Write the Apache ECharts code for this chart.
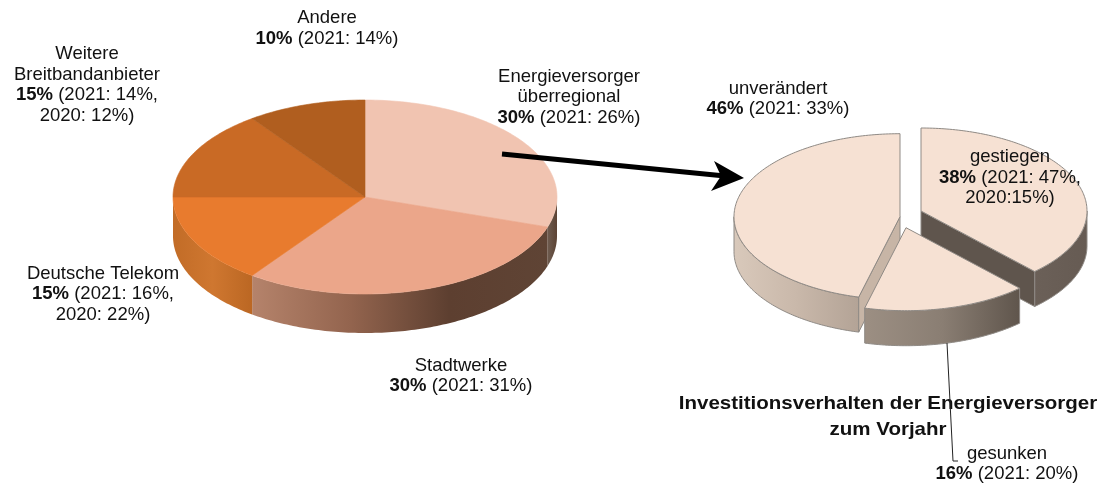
<!DOCTYPE html>
<html><head><meta charset="utf-8">
<style>html,body{margin:0;padding:0;background:#fff}#c{width:1105px;height:483px}</style>
<script src="https://cdn.jsdelivr.net/npm/echarts@6/dist/echarts.min.js"></script>
</head><body><div id="c"></div>
<script>
const marketCategories = ['Energieversorger überregional','Stadtwerke','Deutsche Telekom','Weitere Breitbandanbieter','Andere'];
const marketValues = [30,30,15,15,10];
const investCategories = ['gestiegen','gesunken','unverändert'];
const investValues = [38,16,46];

const FONT = '"Liberation Sans", Arial, sans-serif';
const chart = echarts.init(document.getElementById('c'), null, {renderer:'canvas'});
const grad = (stops) => new echarts.graphic.LinearGradient(0,0,1,0,
  stops.map((c,i)=>({offset:i/(stops.length-1),color:c})));

function ell(g,cx,cy,a){const r=a*Math.PI/180;return [cx+g.rx*Math.sin(r),cy-g.ry*Math.cos(r)];}
function arc(g,cx,cy,a0,a1){const pts=[];const n=Math.max(2,Math.ceil(Math.abs(a1-a0)));
  for(let i=0;i<=n;i++)pts.push(ell(g,cx,cy,a0+(a1-a0)*i/n));return pts;}

function pieSeries(name,cats,vals,g){
  const total=vals.reduce((a,b)=>a+b,0);
  const starts=[];let acc=0;vals.forEach(v=>{starts.push(acc/total*360);acc+=v;});
  return {
    type:'custom',name,coordinateSystem:'none',silent:true,z:2,
    data:vals.map((v,i)=>({name:cats[i],value:v})),
    renderItem(params,api){
      const i=params.dataIndex,a0=starts[i],a1=a0+api.value(0)/total*360;
      const st=g.slices[i];
      const cx=g.cx+(st.dx||0),cy=g.cy+(st.dy||0);
      const kids=[];
      const lineStyle=g.edge?{stroke:g.edge,lineWidth:1}:null;
      const w0=Math.max(a0,90),w1=Math.min(a1,270);
      if(w1>w0&&st.wall){
        const top=arc(g,cx,cy,w0,w1);
        const bot=top.slice().reverse().map(p=>[p[0],p[1]+g.depth]);
        kids.push({type:'polygon',shape:{points:top.concat(bot)},
          style:Object.assign({fill:grad(st.wall)},lineStyle||{stroke:null})});
      }
      if(st.cutAngle!==undefined){
        const e=ell(g,cx,cy,st.cutAngle);
        kids.push({type:'polygon',shape:{points:[[cx,cy],e,[e[0],e[1]+g.depth],[cx,cy+g.depth]]},
          style:Object.assign({fill:st.cut},lineStyle||{})});
      }
      const pts=[[cx,cy]].concat(arc(g,cx,cy,a0,a1));
      kids.push({type:'polygon',shape:{points:pts},
        style:Object.assign({fill:st.top},lineStyle||{stroke:st.top,lineWidth:0.6})});
      kids.forEach(k=>{k.z2=(st.z2||0);});
      return {type:'group',children:kids};
    }
  };
}

const leftPie={cx:365,cy:197,rx:192,ry:97,depth:39,slices:[
  {top:'#F1C4B1',wall:['#6e5c50','#5c4334']},
  {top:'#EBA68A',wall:['#b5836b','#93644e','#5d3f30','#5f4435']},
  {top:'#E87B2E',wall:['#c26c27','#cf7730','#bb6723']},
  {top:'#C96A25'},
  {top:'#B05E1F'}
]};
const rightPie={cx:905,cy:215,rx:166,ry:83,depth:35,edge:'#8f8a85',slices:[
  {top:'#F6E1D3',dx:16,dy:-4,z2:1,wall:['#6b6058','#665b53'],cutAngle:136.8,cut:'#5f554d'},
  {top:'#F6E1D3',dx:1,dy:12.7,z2:3,wall:['#9c8f83','#8a7e73','#5f554c']},
  {top:'#F6E1D3',dx:-5,dy:1.7,z2:2,wall:['#d9c9bb','#c9b8aa','#b3a396'],cutAngle:194.4,cut:'#c7b5a6'}
]};

const SIZE=18.5, LH=20.5;
const rich={b:{fontFamily:FONT,fontSize:SIZE,fontWeight:'bold',lineHeight:LH,fill:'#111'},
            n:{fontFamily:FONT,fontSize:SIZE,lineHeight:LH,fill:'#111'}};
function label(cx,cy,lines){
  const text=lines.map(l=>l.startsWith('*')
    ? l.slice(1).replace(/^(\S+)(.*)$/,'{b|$1}{n|$2}') : '{n|'+l+'}').join('\n');
  return {type:'text',z:100,x:cx,y:cy,silent:true,
    style:{text,rich,align:'center',verticalAlign:'middle',fontFamily:FONT,fontSize:SIZE,lineHeight:LH,fill:'#111'}};
}
const labels=[
  label(327,28.5,['Andere','*10% (2021: 14%)']),
  label(87,85,['Weitere','Breitbandanbieter','*15% (2021: 14%,','2020: 12%)']),
  label(569,97,['Energieversorger','überregional','*30% (2021: 26%)']),
  label(778,99,['unverändert','*46% (2021: 33%)']),
  label(1010,177.5,['gestiegen','*38% (2021: 47%,','2020:15%)']),
  label(103,294,['Deutsche Telekom','*15% (2021: 16%,','2020: 22%)']),
  label(461,376,['Stadtwerke','*30% (2021: 31%)']),
  label(1007,464,['gesunken','*16% (2021: 20%)'])
];
const title={type:'text',z:90,x:888,y:417,scaleX:1.08,silent:true,
  style:{text:'Investitionsverhalten der Energieversorger\nzum Vorjahr',align:'center',verticalAlign:'middle',
    fontFamily:FONT,fontSize:19,fontWeight:'bold',lineHeight:26,fill:'#111'}};
const arrow=[
  {type:'line',z:95,silent:true,shape:{x1:502,y1:154,x2:725,y2:176},style:{stroke:'#000',lineWidth:5}},
  {type:'polygon',z:95,silent:true,shape:{points:[[744,178],[711,191],[721,176],[714,161]]},style:{fill:'#000'}}
];
const leader={type:'polyline',z:95,silent:true,shape:{points:[[947,343],[953,461],[958,461]]},
  style:{stroke:'#222',lineWidth:1,fill:null}};

chart.setOption({
  animation:false,
  backgroundColor:'#fff',
  series:[pieSeries('Markt',marketCategories,marketValues,leftPie),
          pieSeries('Investition',investCategories,investValues,rightPie)],
  graphic:{elements:[title,leader,...arrow,...labels]}
});
</script></body></html>
